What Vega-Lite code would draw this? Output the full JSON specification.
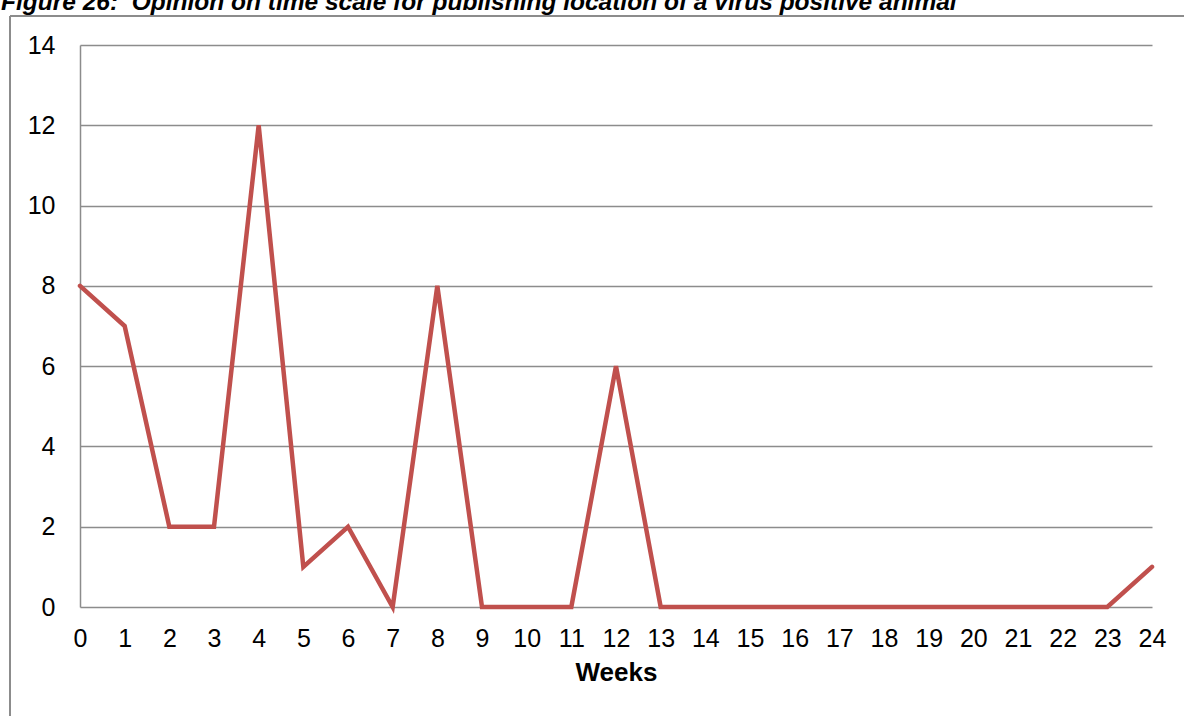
{
  "$schema": "https://vega.github.io/schema/vega-lite/v6.json",
  "width": 1072,
  "height": 562,
  "autosize": {"type": "none"},
  "padding": {"left": 80, "top": 45, "right": 32, "bottom": 109},
  "background": "white",
  "config": {
    "view": {"stroke": null},
    "font": "Liberation Sans"
  },
  "title": {
    "text": "Figure 26: \u00a0Opinion on time scale for publishing location of a virus positive animal",
    "anchor": "start",
    "frame": "group",
    "dx": -79,
    "dy": 24,
    "offset": 5,
    "baseline": "alphabetic",
    "font": "Liberation Sans",
    "fontSize": 24.5,
    "fontWeight": "bold",
    "fontStyle": "italic",
    "color": "#000000"
  },
  "data": {
    "values": [
      {"week": 0, "count": 8}, {"week": 1, "count": 7}, {"week": 2, "count": 2},
      {"week": 3, "count": 2}, {"week": 4, "count": 12}, {"week": 5, "count": 1},
      {"week": 6, "count": 2}, {"week": 7, "count": 0}, {"week": 8, "count": 8},
      {"week": 9, "count": 0}, {"week": 10, "count": 0}, {"week": 11, "count": 0},
      {"week": 12, "count": 6}, {"week": 13, "count": 0}, {"week": 14, "count": 0},
      {"week": 15, "count": 0}, {"week": 16, "count": 0}, {"week": 17, "count": 0},
      {"week": 18, "count": 0}, {"week": 19, "count": 0}, {"week": 20, "count": 0},
      {"week": 21, "count": 0}, {"week": 22, "count": 0}, {"week": 23, "count": 0},
      {"week": 24, "count": 1}
    ]
  },
  "layer": [
    {
      "mark": {"type": "rule", "stroke": "#8c8c8c", "strokeWidth": 1.5, "clip": false},
      "encoding": {
        "x": {"datum": -1.567, "type": "quantitative", "scale": {"domain": [0, 24]}},
        "y": {"datum": 14.72, "type": "quantitative", "scale": {"domain": [0, 14]}},
        "y2": {"datum": -3}
      }
    },
    {
      "mark": {"type": "rule", "stroke": "#8c8c8c", "strokeWidth": 1.5, "clip": false},
      "encoding": {
        "x": {"datum": -1.567, "type": "quantitative"},
        "x2": {"datum": 26},
        "y": {"datum": 14.72, "type": "quantitative"}
      }
    },
    {
      "mark": {"type": "line", "color": "#C0504D", "strokeWidth": 4.5, "strokeJoin": "miter", "strokeCap": "round"},
      "encoding": {
        "x": {
          "field": "week",
          "type": "quantitative",
          "scale": {"domain": [0, 24], "nice": false, "zero": false},
          "axis": {
            "title": "Weeks",
            "titleFont": "Liberation Sans",
            "titleFontSize": 26,
            "titleFontWeight": "bold",
            "titleColor": "#000000",
            "titlePadding": 8,
            "values": [0,1,2,3,4,5,6,7,8,9,10,11,12,13,14,15,16,17,18,19,20,21,22,23,24],
            "format": "d",
            "labelFont": "Liberation Sans",
            "labelFontSize": 25,
            "labelColor": "#000000",
            "labelPadding": 19,
            "labelFlush": false,
            "labelOverlap": false,
            "ticks": false,
            "domain": false,
            "grid": false
          }
        },
        "y": {
          "field": "count",
          "type": "quantitative",
          "scale": {"domain": [0, 14], "nice": false},
          "axis": {
            "title": null,
            "values": [0,2,4,6,8,10,12,14],
            "labelFont": "Liberation Sans",
            "labelFontSize": 25,
            "labelColor": "#000000",
            "labelPadding": 25,
            "ticks": false,
            "domain": true,
            "domainColor": "#8c8c8c",
            "domainWidth": 1.5,
            "grid": true,
            "gridColor": "#8c8c8c",
            "gridWidth": 1.5,
            "gridOpacity": 1
          }
        }
      }
    }
  ]
}
